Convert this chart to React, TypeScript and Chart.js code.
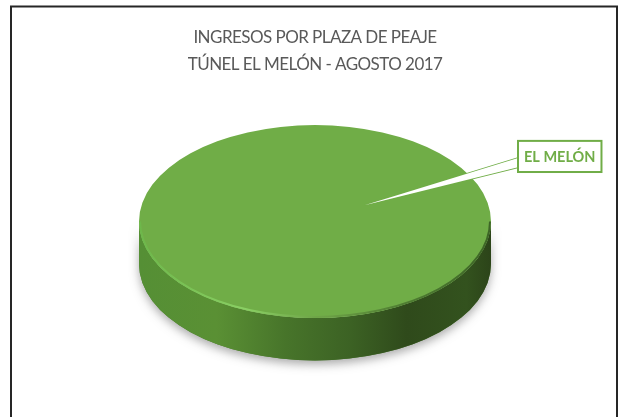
import React, { useEffect, useRef } from "react";
import { Chart, registerables } from "chart.js";

Chart.register(...registerables);

const titleLines = ["INGRESOS POR PLAZA DE PEAJE", "TÚNEL EL MELÓN - AGOSTO 2017"];
const categories = ["EL MELÓN"];
const values = [100];
const sliceColors = ["#70AD47"];

const FONT = "Lato, 'Open Sans', sans-serif";

const discPlugin = {
  id: "disc3d",
  beforeDraw(chart: any) {
    (chart.ctx as any).letterSpacing = "-0.55px";
  },
  beforeDatasetsDraw(chart: any) {
    const ctx = chart.ctx as CanvasRenderingContext2D;
    const arc = chart.getDatasetMeta(0).data[0];
    const { x, y, outerRadius: r } = arc.getProps(["x", "y", "outerRadius"], true);
    const rx = r * 1.244;
    const ry = r * 0.682;
    const depth = r * 0.3;
    const left = x - rx;
    const w = 2 * rx;

    // frame
    ctx.save();
    ctx.strokeStyle = "#262626";
    ctx.lineWidth = 2;
    ctx.strokeRect(11, 6.5, 606, 430);
    ctx.restore();

    const wall = () => {
      ctx.beginPath();
      ctx.moveTo(x - rx, y);
      ctx.ellipse(x, y, rx, ry, 0, Math.PI, 0, true);
      ctx.lineTo(x + rx, y + depth);
      ctx.ellipse(x, y + depth, rx, ry, 0, 0, Math.PI, false);
      ctx.closePath();
    };

    // soft shadow
    ctx.save();
    ctx.shadowColor = "rgba(90,90,90,0.5)";
    ctx.shadowBlur = 10;
    ctx.shadowOffsetY = 4;
    ctx.fillStyle = "#4a7a2c";
    wall();
    ctx.fill();
    ctx.restore();

    // side wall
    const g = ctx.createLinearGradient(left, 0, left + w, 0);
    g.addColorStop(0, "#558f35");
    g.addColorStop(0.22, "#5a9034");
    g.addColorStop(0.42, "#47742a");
    g.addColorStop(0.6, "#3c6224");
    g.addColorStop(0.76, "#2f4a1b");
    g.addColorStop(0.93, "#33521e");
    g.addColorStop(1, "#2c4419");
    ctx.save();
    ctx.fillStyle = g;
    wall();
    ctx.fill();
    ctx.restore();

    // squash the pie drawn by the library into the top face
    ctx.save();
    ctx.translate(x, y);
    ctx.scale(rx / r, ry / r);
    ctx.translate(-x, -y);
  },
  afterDatasetsDraw(chart: any) {
    const ctx = chart.ctx as CanvasRenderingContext2D;
    ctx.restore();
    const arc = chart.getDatasetMeta(0).data[0];
    const { x, y, outerRadius: r } = arc.getProps(["x", "y", "outerRadius"], true);
    const rx = r * 1.244;
    const ry = r * 0.682;

    // lit bevel on the rim of the top face
    ctx.save();
    const rim = ctx.createLinearGradient(x - rx, 0, x + rx, 0);
    rim.addColorStop(0, "#6db74a");
    rim.addColorStop(0.3, "#8ad064");
    rim.addColorStop(0.5, "#6fa548");
    rim.addColorStop(0.75, "#4f7d32");
    rim.addColorStop(1, "#3d6526");
    ctx.strokeStyle = rim;
    ctx.lineWidth = 2;
    ctx.beginPath();
    ctx.ellipse(x, y, rx - 1, ry - 1, 0, Math.PI, 0, true);
    ctx.stroke();
    ctx.restore();

    // callout: wedge and label box
    const tipX = x + r * 0.35;
    const tipY = y - r * 0.115;
    const boxL = x + r * 1.435;
    const boxT = y - r * 0.57;
    const boxW = r * 0.59;
    const boxH = r * 0.22;
    ctx.save();
    (ctx as any).letterSpacing = "0px";
    const wedge = () => {
      ctx.beginPath();
      ctx.moveTo(boxL, boxT + boxH * 0.55);
      ctx.lineTo(tipX, tipY);
      ctx.lineTo(boxL, boxT + boxH * 0.85);
      ctx.closePath();
    };
    ctx.fillStyle = "#ffffff";
    ctx.strokeStyle = sliceColors[0];
    ctx.lineWidth = 1.5;
    wedge();
    ctx.stroke();
    wedge();
    ctx.fill();
    ctx.lineWidth = 2;
    ctx.fillRect(boxL, boxT, boxW, boxH);
    ctx.strokeRect(boxL, boxT, boxW, boxH);
    ctx.fillStyle = sliceColors[0];
    ctx.font = `bold 14.5px ${FONT}`;
    ctx.textAlign = "center";
    ctx.textBaseline = "middle";
    ctx.fillText(categories[0], boxL + boxW / 2, boxT + boxH / 2 + 0.5);
    ctx.restore();
  },
};

export default function App() {
  const ref = useRef<HTMLCanvasElement>(null);
  useEffect(() => {
    const chart = new Chart(ref.current!, {
      type: "pie",
      data: {
        labels: categories,
        datasets: [
          {
            data: values,
            backgroundColor: sliceColors,
            borderWidth: 0,
            clip: false as any,
          },
        ],
      },
      options: {
        animation: false,
        responsive: false,
        devicePixelRatio: 1,
        layout: { padding: { left: 10, bottom: 54 } },
        plugins: {
          legend: { display: false },
          tooltip: { enabled: false },
          title: {
            display: true,
            text: titleLines,
            color: "#595959",
            font: { family: FONT, size: 17, weight: "normal", lineHeight: 1.59 },
            padding: { top: 24, bottom: 2 },
          },
        },
      },
      plugins: [discPlugin],
    });
    return () => chart.destroy();
  }, []);
  return (
    <div style={{ position: "absolute", left: 0, top: 0, width: 620, height: 417, overflow: "hidden", background: "#fff" }}>
      <canvas ref={ref} width={620} height={417} style={{ display: "block", filter: "blur(0.4px)" }} />
    </div>
  );
}
